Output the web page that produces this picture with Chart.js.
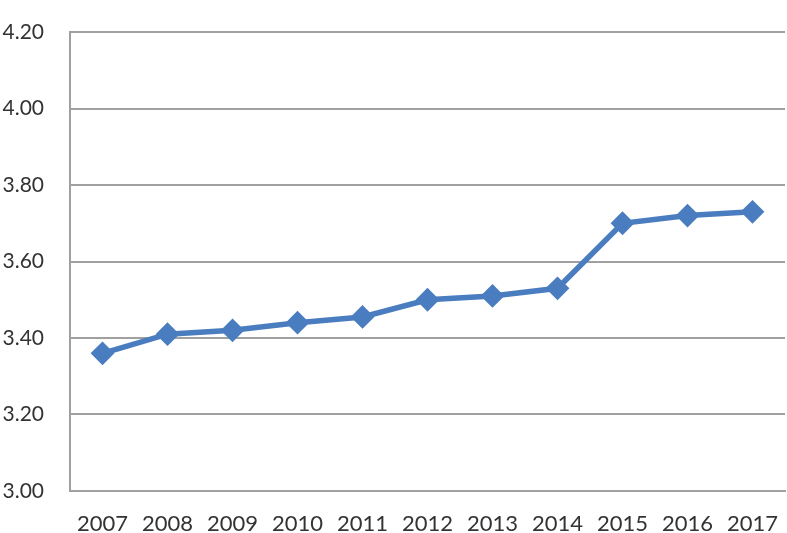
<!DOCTYPE html>
<html>
<head>
<meta charset="utf-8">
<script src="https://cdn.jsdelivr.net/npm/chart.js@4/dist/chart.umd.min.js"></script>
<style>
    body { margin: 0; background: #fff; }
    #wrap { width: 787px; height: 533px; }
</style>
</head>
<body>
<div id="wrap"><canvas id="lineChart"></canvas></div>
<script>
const years = ['2007', '2008', '2009', '2010', '2011', '2012', '2013', '2014', '2015', '2016', '2017'];
const values = [3.36, 3.41, 3.42, 3.44, 3.455, 3.50, 3.51, 3.53, 3.70, 3.72, 3.73];
const yMin = 3.0;
const yMax = 4.2;
const yStep = 0.2;

const ctx = document.getElementById('lineChart').getContext('2d');

new Chart(ctx, {
    type: 'line',
    data: {
        labels: years,
        datasets: [{
            data: values,
            borderColor: '#4a7dbf',
            backgroundColor: '#4a7dbf',
            borderWidth: 5.5,
            pointStyle: 'rectRot',
            pointRadius: 8,
            pointHoverRadius: 8,
            tension: 0,
            clip: false
        }]
    },
    options: {
        responsive: true,
        maintainAspectRatio: false,
        animation: false,
        layout: { autoPadding: false, padding: { top: 32, right: 2, left: 2, bottom: 0 } },
        plugins: {
            legend: { display: false },
            tooltip: { enabled: false }
        },
        scales: {
            x: {
                offset: true,
                grid: { display: false, drawTicks: false },
                border: { display: true, color: '#a0a0a0', width: 2 },
                ticks: { color: '#333', font: { family: 'Lato', size: 22 }, padding: 20, maxRotation: 0 },
                afterFit: (scale) => {
                    // pin the plot bottom where the reference has it
                    scale.height = 42;
                    scale.paddingLeft = 0;
                    scale.paddingRight = 0;
                }
            },
            y: {
                min: yMin,
                max: yMax,
                grid: { color: '#a0a0a0', lineWidth: 2, drawTicks: false },
                border: { display: true, color: '#a0a0a0', width: 2 },
                ticks: {
                    stepSize: yStep,
                    color: '#333',
                    font: { family: 'Lato', size: 21 },
                    padding: 26,
                    callback: v => v.toFixed(2)
                },
                afterFit: (scale) => {
                    scale.width = 68;
                    scale.paddingTop = 0;
                    scale.paddingBottom = 0;
                }
            }
        }
    }
});
</script>
</body>
</html>
